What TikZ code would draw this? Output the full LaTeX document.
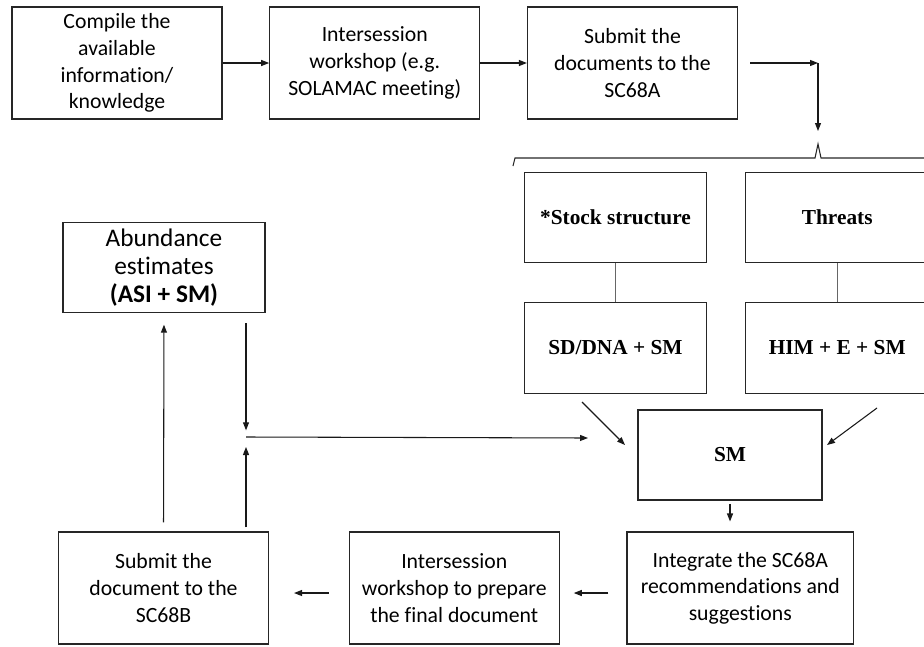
\documentclass[tikz,border=0pt]{standalone}
\usepackage{fontspec}
\setmainfont{Carlito}[Ligatures=NoCommon]
\newfontfamily\timesfont{Liberation Serif}
\usepackage{tikz}
\usetikzlibrary{arrows.meta}
\usetikzlibrary{positioning, calc}

\begin{document}
\begin{tikzpicture}[
        x=0.75pt, y=-0.75pt,
        every node/.style={draw=black!85, line width=0.8pt, align=center, inner sep=2pt, font=\fontsize{16.3}{20}\selectfont},
        flow/.style={-{Triangle[length=6pt, width=4.5pt]}, line width=0.8pt, black!90},
        tall/.style={minimum width=157.5pt, minimum height=84pt},
        flat/.style={minimum width=137pt, minimum height=68pt, font=\fontsize{16}{19}\selectfont\timesfont\bfseries}
        ]
        \useasboundingbox (0,0) rectangle (924,646);

        % Nodes
        \node[tall] (compile) at (117,63) {Compile the\\ available\\ information/\\ knowledge};
        \node[tall, right=35pt of compile] (workshopA) {Intersession\\ workshop (e.g.\\ SOLAMAC meeting)};
        \node[tall, right=35pt of workshopA] (submitA) {Submit the\\ documents to the\\ SC68A};
        \node[flat] (stock) at (615.5,217.5) {*Stock structure};
        \node[flat, right=28.5pt of stock] (threats) {Threats};
        \node[flat, below=29pt of stock] (sddna) {SD/DNA + SM};
        \node[flat, below=29pt of threats] (him) {HIM + E + SM};
        \node[flat, minimum width=138pt, minimum height=67.5pt] (sm) at (730,455) {SM};
        \node[minimum width=151.5pt, minimum height=68pt, font=\fontsize{19}{21}\selectfont] (abund) at (164,267.5) {Abundance\\ estimates\\ \textbf{(ASI + SM)}};
        \node[tall, minimum width=157pt] (submitB) at (163.5,588) {Submit the\\ document to the\\ SC68B};
        \node[tall, right=60pt of submitB] (workshopB) {Intersession\\ workshop to prepare\\ the final document};
        \node[tall, minimum width=170pt, right=50pt of workshopB] (integrate) {Integrate the SC68A\\ recommendations and\\ suggestions};

        \coordinate (turn) at (818,63);
        \coordinate (tip) at (818,131);
        \coordinate (fromSD) at (582,402);
        \coordinate (intoSMa) at (625,445);
        \coordinate (fromHIM) at (877,408);
        \coordinate (intoSMb) at (827,445);
        \coordinate (join) at (246,437);
        \coordinate (intoSMc) at (588,438);

        % Arrows
        \draw[flow] (compile) -- (workshopA);
        \draw[flow] (workshopA) -- (submitA);
        \draw[flow] ([xshift=9pt]submitA.east) -- (turn);
        \draw[flow] (turn) -- (tip);
        \draw[line width=0.8pt, black!85] (513,166) -- (515,158) -- (815,158) -- (818,144) -- (821,158) -- (940,158);
        \draw[line width=0.8pt, black!60] (stock) -- (sddna);
        \draw[line width=0.8pt, black!60] (threats) -- (him);
        \draw[flow] (fromSD) -- (intoSMa);
        \draw[flow] (fromHIM) -- (intoSMb);
        \draw[flow, shorten <=2.5pt, shorten >=7.5pt] (sm.south) -- (sm.south |- integrate.north);
        \draw[flow, shorten <=13.5pt, shorten >=10.5pt] ([yshift=-3.75pt]integrate.west) -- ([yshift=-3.75pt]workshopB.east);
        \draw[flow, shorten <=15pt, shorten >=19pt] ([yshift=-3.75pt]workshopB.west) -- ([yshift=-3.75pt]submitB.east);
        \draw[flow, shorten <=6.75pt, shorten >=8.5pt] (submitB.north) -- (abund.south);
        \draw[flow, shorten <=7.5pt, shorten >=5pt] (abund.south -| join) -- (join);
        \draw[flow, shorten <=3pt, shorten >=7.5pt] (submitB.north -| join) -- (join);
        \draw[flow] (join) -- (intoSMc);

        \end{tikzpicture}
\end{document}
